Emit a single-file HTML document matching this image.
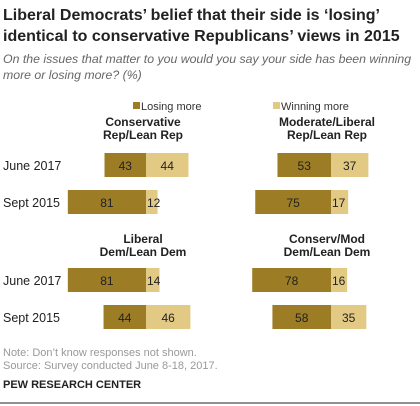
<!DOCTYPE html>
<html><head><meta charset="utf-8"><style>
body{margin:0;background:#fff;width:420px;height:406px;overflow:hidden;font-family:"Liberation Sans",sans-serif;}
</style></head><body>
<svg width="420" height="406" style="position:absolute;left:0;top:0">
<text x="3" y="20" font-size="16" font-weight="bold" fill="#222">Liberal Democrats’ belief that their side is ‘losing’</text>
<text x="3" y="41" font-size="16" font-weight="bold" fill="#222">identical to conservative Republicans’ views in 2015</text>
<text x="3" y="63" font-size="12.3" font-style="italic" fill="#666">On the issues that matter to you would you say your side has been winning</text>
<text x="3" y="79" font-size="12.3" font-style="italic" fill="#666">more or losing more? (%)</text>
<rect x="133" y="102" width="7" height="7" fill="#9c7c24"/>
<text x="141" y="110" font-size="11" fill="#333">Losing more</text>
<rect x="273" y="102" width="7" height="7" fill="#e2ca85"/>
<text x="281" y="110" font-size="11" fill="#333">Winning more</text>
<g id="bars"></g>
<text x="3" y="356" font-size="11" fill="#999">Note: Don’t know responses not shown.</text>
<text x="3" y="369" font-size="11" fill="#999">Source: Survey conducted June 8-18, 2017.</text>
<text x="3" y="388" font-size="11" font-weight="bold" fill="#222">PEW RESEARCH CENTER</text>
<line x1="0" y1="403" x2="420" y2="403" stroke="#222" stroke-width="1"/>
</svg>
<script>
const panels = ["Conservative|Rep/Lean Rep","Moderate/Liberal|Rep/Lean Rep","Liberal|Dem/Lean Dem","Conserv/Mod|Dem/Lean Dem"];
const rows = ["June 2017","Sept 2015"];
const losing = [[43,81],[53,75],[81,44],[78,58]];
const winning = [[44,12],[37,17],[14,46],[16,35]];
const centers=[146,331], scales=[0.965,1.01];
const titleY=[126,243], rowY=[[153,190],[268,305]];
const g=document.getElementById('bars'), NS='http://www.w3.org/2000/svg';
function mk(t,a){const e=document.createElementNS(NS,t);for(const k in a)e.setAttribute(k,a[k]);g.appendChild(e);return e;}
panels.forEach((p,pi)=>{
  const col=pi%2, r=Math.floor(pi/2), cx=centers[col], s=scales[col];
  p.split('|').forEach((ln,li)=>{
    const t=mk('text',{x:cx-(col?4:3),y:titleY[r]+li*13,'font-size':12,'font-weight':'bold','text-anchor':'middle',fill:'#222'});
    t.textContent=ln;
    
    
  });
  rows.forEach((rw,ri)=>{
    const y=rowY[r][ri];
    if(col===0){const l=mk('text',{x:3,y:y+17,'font-size':12.5,fill:'#222'});l.textContent=rw;
      
      }
    const lw=losing[pi][ri]*s, ww=winning[pi][ri]*s;
    const b1=mk('rect',{x:cx-lw,y:y,width:lw,height:24,fill:'#9c7c24'});
    
    
    const b2=mk('rect',{x:cx,y:y,width:ww,height:24,fill:'#e2ca85'});
    
    
    const t1=mk('text',{x:cx-lw/2,y:y+17,'font-size':12,'text-anchor':'middle',fill:'#222'});t1.textContent=losing[pi][ri];
    
    
    const t2=mk('text',{x:ww<20?cx+1:cx+ww/2,y:y+17,'font-size':12,'text-anchor':ww<20?'start':'middle',fill:'#222'});t2.textContent=winning[pi][ri];
    
    
  });
});
</script>
</body></html>
